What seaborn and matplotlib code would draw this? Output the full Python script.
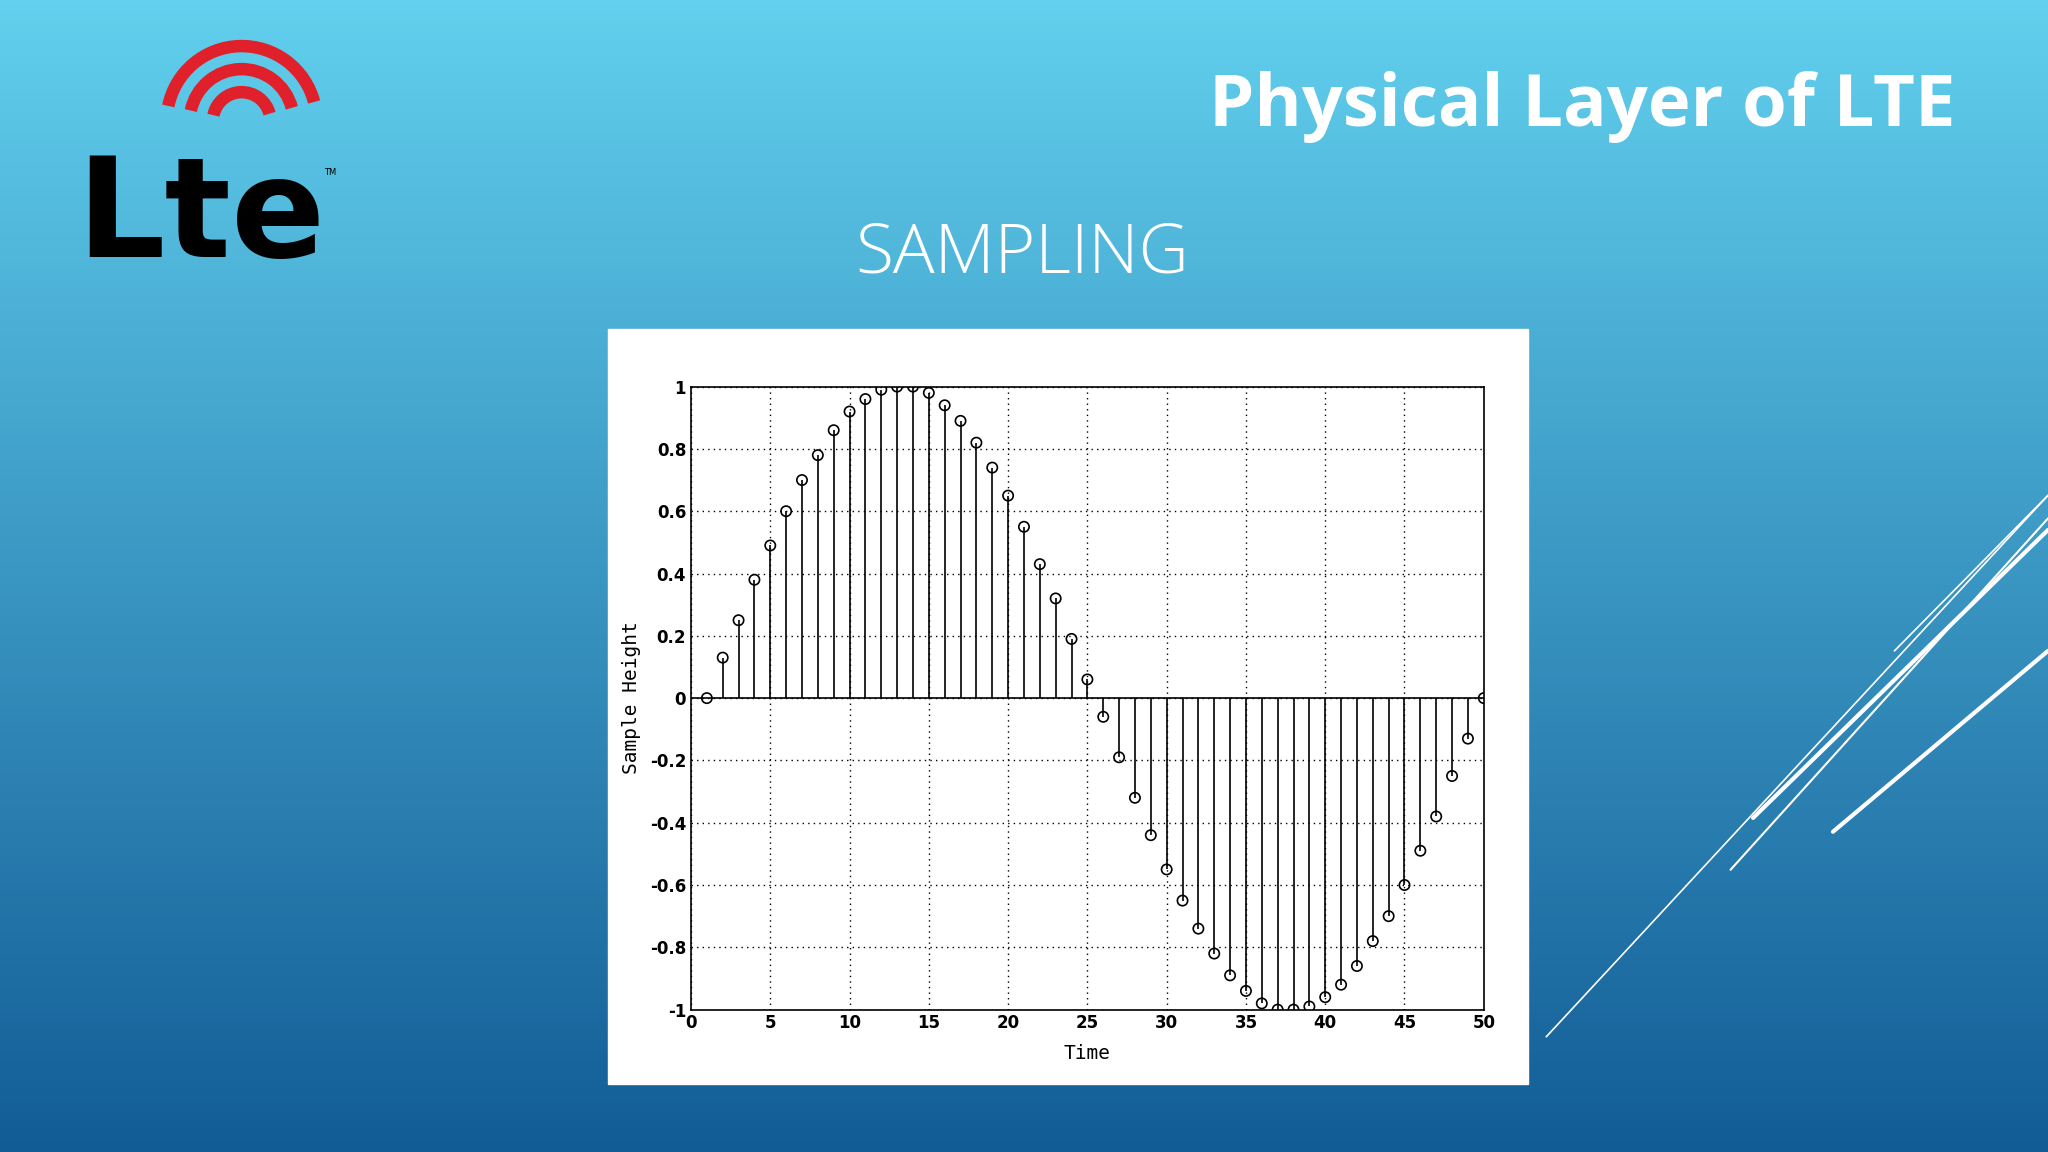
import numpy as np
import pandas as pd
import matplotlib
matplotlib.use("Agg")
import matplotlib.pyplot as plt
import seaborn as sns
from matplotlib.patches import Rectangle, Arc

time = list(range(1, 51))
height = [0, 0.13, 0.25, 0.38, 0.49, 0.60, 0.70, 0.78, 0.86, 0.92,
          0.96, 0.99, 1.0, 1.0, 0.98, 0.94, 0.89, 0.82, 0.74, 0.65,
          0.55, 0.43, 0.32, 0.19, 0.06, -0.06, -0.19, -0.32, -0.44, -0.55,
          -0.65, -0.74, -0.82, -0.89, -0.94, -0.98, -1.0, -1.0, -0.99, -0.96,
          -0.92, -0.86, -0.78, -0.70, -0.60, -0.49, -0.38, -0.25, -0.13, 0]
xticks = [0, 5, 10, 15, 20, 25, 30, 35, 40, 45, 50]
yticks = [-1, -0.8, -0.6, -0.4, -0.2, 0, 0.2, 0.4, 0.6, 0.8, 1]
ytick_labels = ["-1", "-0.8", "-0.6", "-0.4", "-0.2", "0", "0.2", "0.4", "0.6", "0.8", "1"]

sns.set_theme(style="white")
plt.rcParams['font.family'] = ['DejaVu Sans']

fig = plt.figure(figsize=(20.48, 11.52), dpi=100)

bg = fig.add_axes([0, 0, 1, 1])
bg.set_xlim(0, 1); bg.set_ylim(0, 1); bg.axis("off")
top = np.array([0x62, 0xd0, 0xee]) / 255
bot = np.array([0x12, 0x5c, 0x96]) / 255
t = np.linspace(0, 1, 256)[:, None]
grad = (top[None, :] * (1 - t) + bot[None, :] * t)[:, None, :]
bg.imshow(grad, extent=[0, 1, 0, 1], aspect="auto", origin="upper", zorder=0)

for (x0, y0, x1, y1, lw) in [(0.755, 0.10, 1.0, 0.57, 1.2), (0.845, 0.245, 1.0, 0.55, 1.5),
                              (0.856, 0.29, 1.0, 0.54, 3), (0.895, 0.278, 1.0, 0.435, 3),
                              (0.925, 0.435, 1.0, 0.57, 1.2)]:
    bg.plot([x0, x1], [y0, y1], color="white", lw=lw, zorder=1)

# logo
bg.text(0.098, 0.81, "Lte", fontsize=100, fontweight="bold", color="black",
        ha="center", va="center", family="DejaVu Sans", zorder=3)
for r in [0.025, 0.045, 0.065]:
    bg.add_patch(Arc((0.118, 0.895), r * 2 * 0.5625, r * 2, theta1=25, theta2=160,
                     color="#e0202a", lw=9, zorder=3))
bg.text(0.158, 0.848, "TM", fontsize=6, color="black", zorder=3)

bg.text(0.955, 0.907, "Physical Layer of LTE", fontsize=52, fontweight="bold", color="white",
        ha="right", va="center", family="Open Sans")
bg.text(0.499, 0.779, "SAMPLING", fontsize=50, fontweight="light", color="white",
        ha="center", va="center", family="Open Sans")

bg.add_patch(Rectangle((0.297, 0.059), 0.449, 0.655, color="white", zorder=2))

ax = fig.add_axes([0.3374, 0.1236, 0.3871, 0.5408])
df = pd.DataFrame({"Time": time, "Sample Height": height})
ax.vlines(df["Time"], 0, df["Sample Height"], color="black", lw=1.2)
ax.axhline(0, color="black", lw=1.2)
sns.scatterplot(data=df, x="Time", y="Sample Height", ax=ax, marker="o", s=55,
                facecolor="none", edgecolor="black", linewidth=1.2, zorder=3)
ax.set_xlim(0, 50); ax.set_ylim(-1, 1)
ax.set_xticks(xticks); ax.set_yticks(yticks)
ax.set_yticklabels(ytick_labels)
ax.grid(True, color="black", linestyle=(0, (1, 3)), lw=1)
for s in ax.spines.values():
    s.set_color("black"); s.set_linewidth(1.2)
ax.tick_params(labelsize=12, colors="black", direction="in", length=4, width=1)
for lab in ax.get_xticklabels() + ax.get_yticklabels():
    lab.set_fontweight("bold")
ax.set_xlabel("Time", fontsize=14, family="DejaVu Sans Mono", color="black", labelpad=8)
ax.set_ylabel("Sample Height", fontsize=14, family="DejaVu Sans Mono", color="black", labelpad=6)

fig.savefig("out.png", dpi=100)
